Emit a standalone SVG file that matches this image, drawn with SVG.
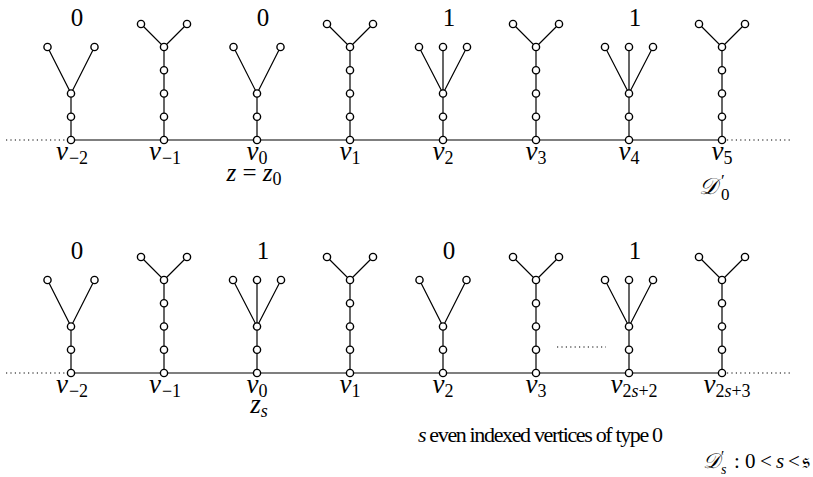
<svg xmlns="http://www.w3.org/2000/svg" width="813" height="477" viewBox="0 0 813 477">
<style>
.n{fill:#fff;stroke:#000;stroke-width:1.4}
.e{stroke:#000;stroke-width:1.2;fill:none}
.d{stroke:#000;stroke-width:1.2;fill:none;stroke-dasharray:1.2 3.2}
text{font-family:"Liberation Serif","DejaVu Serif",serif;fill:#000}
.t{font-size:25px;text-anchor:middle}
.v{font-size:27px;font-style:italic;text-anchor:middle}
.sb{font-size:18px;font-style:normal}
.si{font-size:18px;font-style:italic}
.m{font-size:21px}
</style>
<defs>
<circle id="c" r="3.6" class="n"/>
</defs>
<rect width="813" height="477" fill="#fff"/>
<g id="connectors">
<line class="e" x1="71" y1="140" x2="722" y2="140"/>
<line class="d" x1="6" y1="140" x2="68" y2="140"/>
<line class="d" x1="727" y1="140" x2="790" y2="140"/>
<path class="e" d="M71 140V93.5L47.5 47M71 93.5L94.5 47"/>
<path class="e" d="M164 140V47L141 24M164 47L187 24"/>
<path class="e" d="M257 140V93.5L233.5 47M257 93.5L280.5 47"/>
<path class="e" d="M350 140V47L327 24M350 47L373 24"/>
<path class="e" d="M443 140V47M443 93.5L419 47M443 93.5L467 47"/>
<path class="e" d="M536 140V47L513 24M536 47L559 24"/>
<path class="e" d="M629 140V47M629 93.5L605 47M629 93.5L653 47"/>
<path class="e" d="M722 140V47L699 24M722 47L745 24"/>
<line class="e" x1="71" y1="373" x2="722" y2="373"/>
<line class="d" x1="6" y1="373" x2="68" y2="373"/>
<line class="d" x1="727" y1="373" x2="790" y2="373"/>
<line class="d" x1="557" y1="347" x2="606" y2="347"/>
<path class="e" d="M71 373V326.5L47.5 280M71 326.5L94.5 280"/>
<path class="e" d="M164 373V280L141 257M164 280L187 257"/>
<path class="e" d="M257 373V280M257 326.5L233 280M257 326.5L281 280"/>
<path class="e" d="M350 373V280L327 257M350 280L373 257"/>
<path class="e" d="M443 373V326.5L419.5 280M443 326.5L466.5 280"/>
<path class="e" d="M536 373V280L513 257M536 280L559 257"/>
<path class="e" d="M629 373V280M629 326.5L605 280M629 326.5L653 280"/>
<path class="e" d="M722 373V280L699 257M722 280L745 257"/>
</g>
<g id="top-vm2"><use href="#c" x="71" y="140"/><use href="#c" x="71" y="116.75"/><use href="#c" x="71" y="93.5"/><use href="#c" x="47.5" y="47"/><use href="#c" x="94.5" y="47"/></g>
<g id="top-vm1"><use href="#c" x="164" y="140"/><use href="#c" x="164" y="116.75"/><use href="#c" x="164" y="93.5"/><use href="#c" x="164" y="70.25"/><use href="#c" x="164" y="47"/><use href="#c" x="141" y="24"/><use href="#c" x="187" y="24"/></g>
<g id="top-v0"><use href="#c" x="257" y="140"/><use href="#c" x="257" y="116.75"/><use href="#c" x="257" y="93.5"/><use href="#c" x="233.5" y="47"/><use href="#c" x="280.5" y="47"/></g>
<g id="top-v1"><use href="#c" x="350" y="140"/><use href="#c" x="350" y="116.75"/><use href="#c" x="350" y="93.5"/><use href="#c" x="350" y="70.25"/><use href="#c" x="350" y="47"/><use href="#c" x="327" y="24"/><use href="#c" x="373" y="24"/></g>
<g id="top-v2"><use href="#c" x="443" y="140"/><use href="#c" x="443" y="116.75"/><use href="#c" x="443" y="93.5"/><use href="#c" x="419" y="47"/><use href="#c" x="443" y="47"/><use href="#c" x="467" y="47"/></g>
<g id="top-v3"><use href="#c" x="536" y="140"/><use href="#c" x="536" y="116.75"/><use href="#c" x="536" y="93.5"/><use href="#c" x="536" y="70.25"/><use href="#c" x="536" y="47"/><use href="#c" x="513" y="24"/><use href="#c" x="559" y="24"/></g>
<g id="top-v4"><use href="#c" x="629" y="140"/><use href="#c" x="629" y="116.75"/><use href="#c" x="629" y="93.5"/><use href="#c" x="605" y="47"/><use href="#c" x="629" y="47"/><use href="#c" x="653" y="47"/></g>
<g id="top-v5"><use href="#c" x="722" y="140"/><use href="#c" x="722" y="116.75"/><use href="#c" x="722" y="93.5"/><use href="#c" x="722" y="70.25"/><use href="#c" x="722" y="47"/><use href="#c" x="699" y="24"/><use href="#c" x="745" y="24"/></g>
<g id="bot-vm2"><use href="#c" x="71" y="373"/><use href="#c" x="71" y="349.75"/><use href="#c" x="71" y="326.5"/><use href="#c" x="47.5" y="280"/><use href="#c" x="94.5" y="280"/></g>
<g id="bot-vm1"><use href="#c" x="164" y="373"/><use href="#c" x="164" y="349.75"/><use href="#c" x="164" y="326.5"/><use href="#c" x="164" y="303.25"/><use href="#c" x="164" y="280"/><use href="#c" x="141" y="257"/><use href="#c" x="187" y="257"/></g>
<g id="bot-v0"><use href="#c" x="257" y="373"/><use href="#c" x="257" y="349.75"/><use href="#c" x="257" y="326.5"/><use href="#c" x="233" y="280"/><use href="#c" x="257" y="280"/><use href="#c" x="281" y="280"/></g>
<g id="bot-v1"><use href="#c" x="350" y="373"/><use href="#c" x="350" y="349.75"/><use href="#c" x="350" y="326.5"/><use href="#c" x="350" y="303.25"/><use href="#c" x="350" y="280"/><use href="#c" x="327" y="257"/><use href="#c" x="373" y="257"/></g>
<g id="bot-v2"><use href="#c" x="443" y="373"/><use href="#c" x="443" y="349.75"/><use href="#c" x="443" y="326.5"/><use href="#c" x="419.5" y="280"/><use href="#c" x="466.5" y="280"/></g>
<g id="bot-v3"><use href="#c" x="536" y="373"/><use href="#c" x="536" y="349.75"/><use href="#c" x="536" y="326.5"/><use href="#c" x="536" y="303.25"/><use href="#c" x="536" y="280"/><use href="#c" x="513" y="257"/><use href="#c" x="559" y="257"/></g>
<g id="bot-v2s2"><use href="#c" x="629" y="373"/><use href="#c" x="629" y="349.75"/><use href="#c" x="629" y="326.5"/><use href="#c" x="605" y="280"/><use href="#c" x="629" y="280"/><use href="#c" x="653" y="280"/></g>
<g id="bot-v2s3"><use href="#c" x="722" y="373"/><use href="#c" x="722" y="349.75"/><use href="#c" x="722" y="326.5"/><use href="#c" x="722" y="303.25"/><use href="#c" x="722" y="280"/><use href="#c" x="699" y="257"/><use href="#c" x="745" y="257"/></g>
<g id="labels-top">
<text class="t" x="77" y="26">0</text>
<text class="t" x="263" y="26">0</text>
<text class="t" x="449" y="26">1</text>
<text class="t" x="635" y="26">1</text>
<text class="v" x="72" y="160">v<tspan class="sb" dx="1" dy="4">−2</tspan></text>
<text class="v" x="165" y="160">v<tspan class="sb" dx="1" dy="4">−1</tspan></text>
<text class="v" x="257" y="160">v<tspan class="sb" dy="4">0</tspan></text>
<text class="v" x="350" y="160">v<tspan class="sb" dy="4">1</tspan></text>
<text class="v" x="443" y="160">v<tspan class="sb" dy="4">2</tspan></text>
<text class="v" x="536" y="160">v<tspan class="sb" dy="4">3</tspan></text>
<text class="v" x="629" y="160">v<tspan class="sb" dy="4">4</tspan></text>
<text class="v" x="722" y="160">v<tspan class="sb" dy="4">5</tspan></text>
<text x="254" y="181" font-size="25" font-style="italic" text-anchor="middle">z <tspan font-style="normal">=</tspan> z<tspan class="sb" dy="4">0</tspan></text>
<text x="699" y="194" font-size="23" font-style="italic">𝒟</text>
<text x="721" y="186" font-size="17">′</text>
<text x="721" y="200" font-size="17">0</text>
</g>
<g id="labels-bottom">
<text class="t" x="77" y="259">0</text>
<text class="t" x="263" y="259">1</text>
<text class="t" x="449" y="259">0</text>
<text class="t" x="635" y="259">1</text>
<text class="v" x="72" y="393">v<tspan class="sb" dx="1" dy="4">−2</tspan></text>
<text class="v" x="165" y="393">v<tspan class="sb" dx="1" dy="4">−1</tspan></text>
<text class="v" x="257" y="393">v<tspan class="sb" dy="4">0</tspan></text>
<text class="v" x="350" y="393">v<tspan class="sb" dy="4">1</tspan></text>
<text class="v" x="443" y="393">v<tspan class="sb" dy="4">2</tspan></text>
<text class="v" x="536" y="393">v<tspan class="sb" dy="4">3</tspan></text>
<text class="v" x="634" y="393">v<tspan class="sb" dy="4">2<tspan font-style="italic">s</tspan>+2</tspan></text>
<text class="v" x="727" y="393">v<tspan class="sb" dy="4">2<tspan font-style="italic">s</tspan>+3</tspan></text>
<text class="v" x="259" y="413" font-size="25">z<tspan class="si" dy="4">s</tspan></text>
<text x="418" y="442" font-size="22" textLength="245"><tspan font-style="italic">s</tspan> even indexed vertices of type 0</text>
<text x="703" y="468" font-size="21" font-style="italic">𝒟</text>
<text x="721" y="461" font-size="15">′</text>
<text x="721" y="474" font-size="14" font-style="italic">s</text>
<text class="m" x="734" y="468">:</text>
<text class="m" x="745" y="468">0</text>
<text class="m" x="760" y="468">&lt;</text>
<text class="m" x="776" y="468" font-style="italic">s</text>
<text class="m" x="788" y="468">&lt;</text>
<text class="m" x="802" y="468">𝔰</text>
</g>
</svg>
